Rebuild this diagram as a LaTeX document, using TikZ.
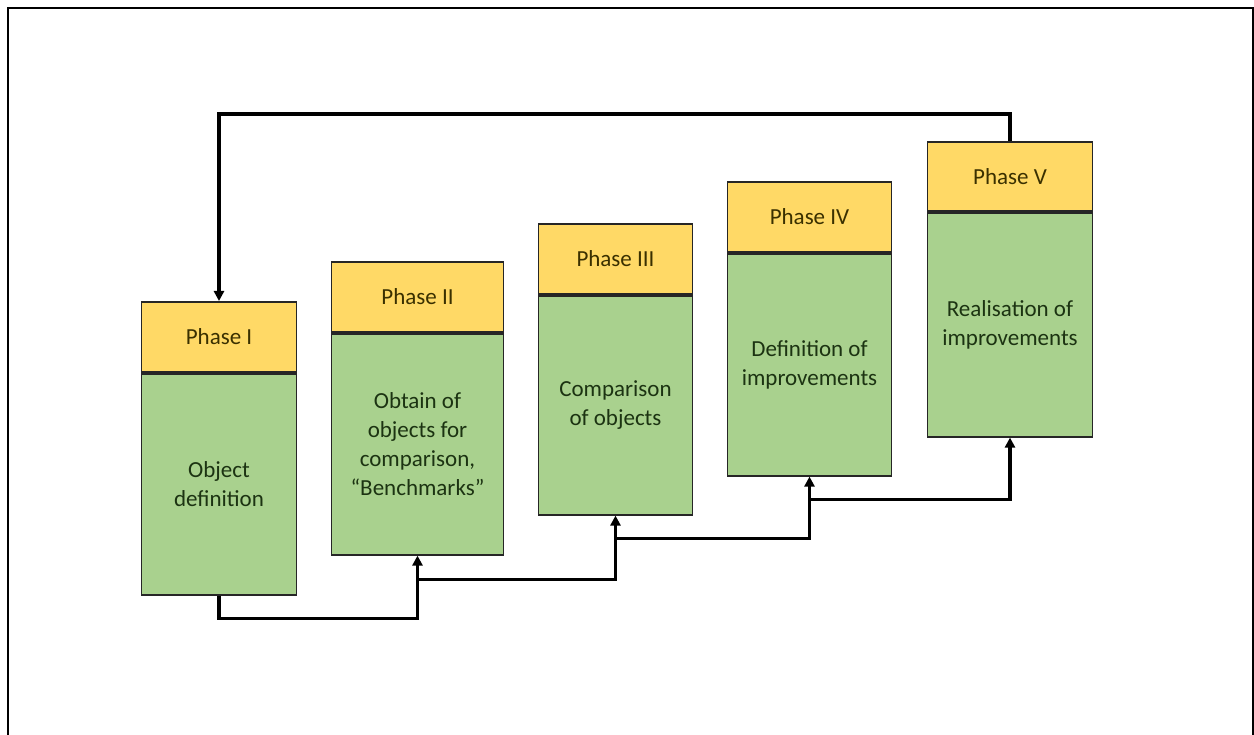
\documentclass[tikz,border=0pt]{standalone}
\usepackage{fontspec}
\setmainfont{Carlito}
\usetikzlibrary{arrows.meta,calc}
\definecolor{hdrfill}{HTML}{FFD966}
\definecolor{bdyfill}{HTML}{A9D18E}
\definecolor{edge}{HTML}{262626}
\definecolor{hdrtext}{HTML}{3A3000}
\definecolor{bdytext}{HTML}{1C3312}
\tikzset{
  phasehead/.style={draw=edge, line width=1.8pt, fill=hdrfill, text=hdrtext,
    minimum height=70pt, anchor=north, inner sep=0pt,
    font=\fontsize{23}{29}\selectfont},
  phasebody/.style={draw=edge, line width=1.8pt, fill=bdyfill, text=bdytext,
    anchor=north, inner sep=0pt, align=center,
    font=\fontsize{23}{29}\selectfont},
  conn/.style={draw=black, line width=3.4pt,
    -{Triangle[length=10pt,width=10pt]}},
}
\begin{document}
\begin{tikzpicture}[x=1pt,y=-1pt]
  \useasboundingbox (0,0) rectangle (1254,735);
  % page frame
  \draw[line width=2.5pt] (8,745) -- (8,8) -- (1253,8) -- (1253,745);

  % Phase I
  \node[phasehead, minimum width=155pt] (hI) at (219,301) {Phase I};
  \node[phasebody, minimum width=155pt, minimum height=221pt] (bI) at (hI.south) {Object\\definition};
  % Phase II
  \node[phasehead, minimum width=172pt] (hII) at (417.5,261) {Phase II};
  \node[phasebody, minimum width=172pt, minimum height=221pt] (bII) at (hII.south) {Obtain of\\objects for\\comparison,\\“Benchmarks”};
  % Phase III
  \node[phasehead, minimum width=154pt] (hIII) at (615.5,223) {Phase III};
  \node[phasebody, minimum width=154pt, minimum height=219pt] (bIII) at (hIII.south) {Comparison\\of objects};
  % Phase IV
  \node[phasehead, minimum width=164pt] (hIV) at (809.5,181) {Phase IV};
  \node[phasebody, minimum width=164pt, minimum height=222pt] (bIV) at (hIV.south) {Definition of\\improvements};
  % Phase V
  \node[phasehead, minimum width=165pt, minimum height=69pt] (hV) at (1010,141) {Phase V};
  \node[phasebody, minimum width=165pt, minimum height=224pt] (bV) at (hV.south) {Realisation of\\improvements};

  % forward chain along the bottom
  \draw[conn] (bI.south) -- ++(0,23) -| (bII.south);
  \draw[conn] ($(bII.south)+(0,24)$) -| (bIII.south);
  \draw[conn] ($(bIII.south)+(0,23)$) -| (bIV.south);
  \draw[conn] ($(bIV.south)+(0,23)$) -| (bV.south);

  % feedback loop over the top
  \draw[conn] (hV.north) -- ++(0,-27) -| (hI.north);
\end{tikzpicture}
\end{document}
